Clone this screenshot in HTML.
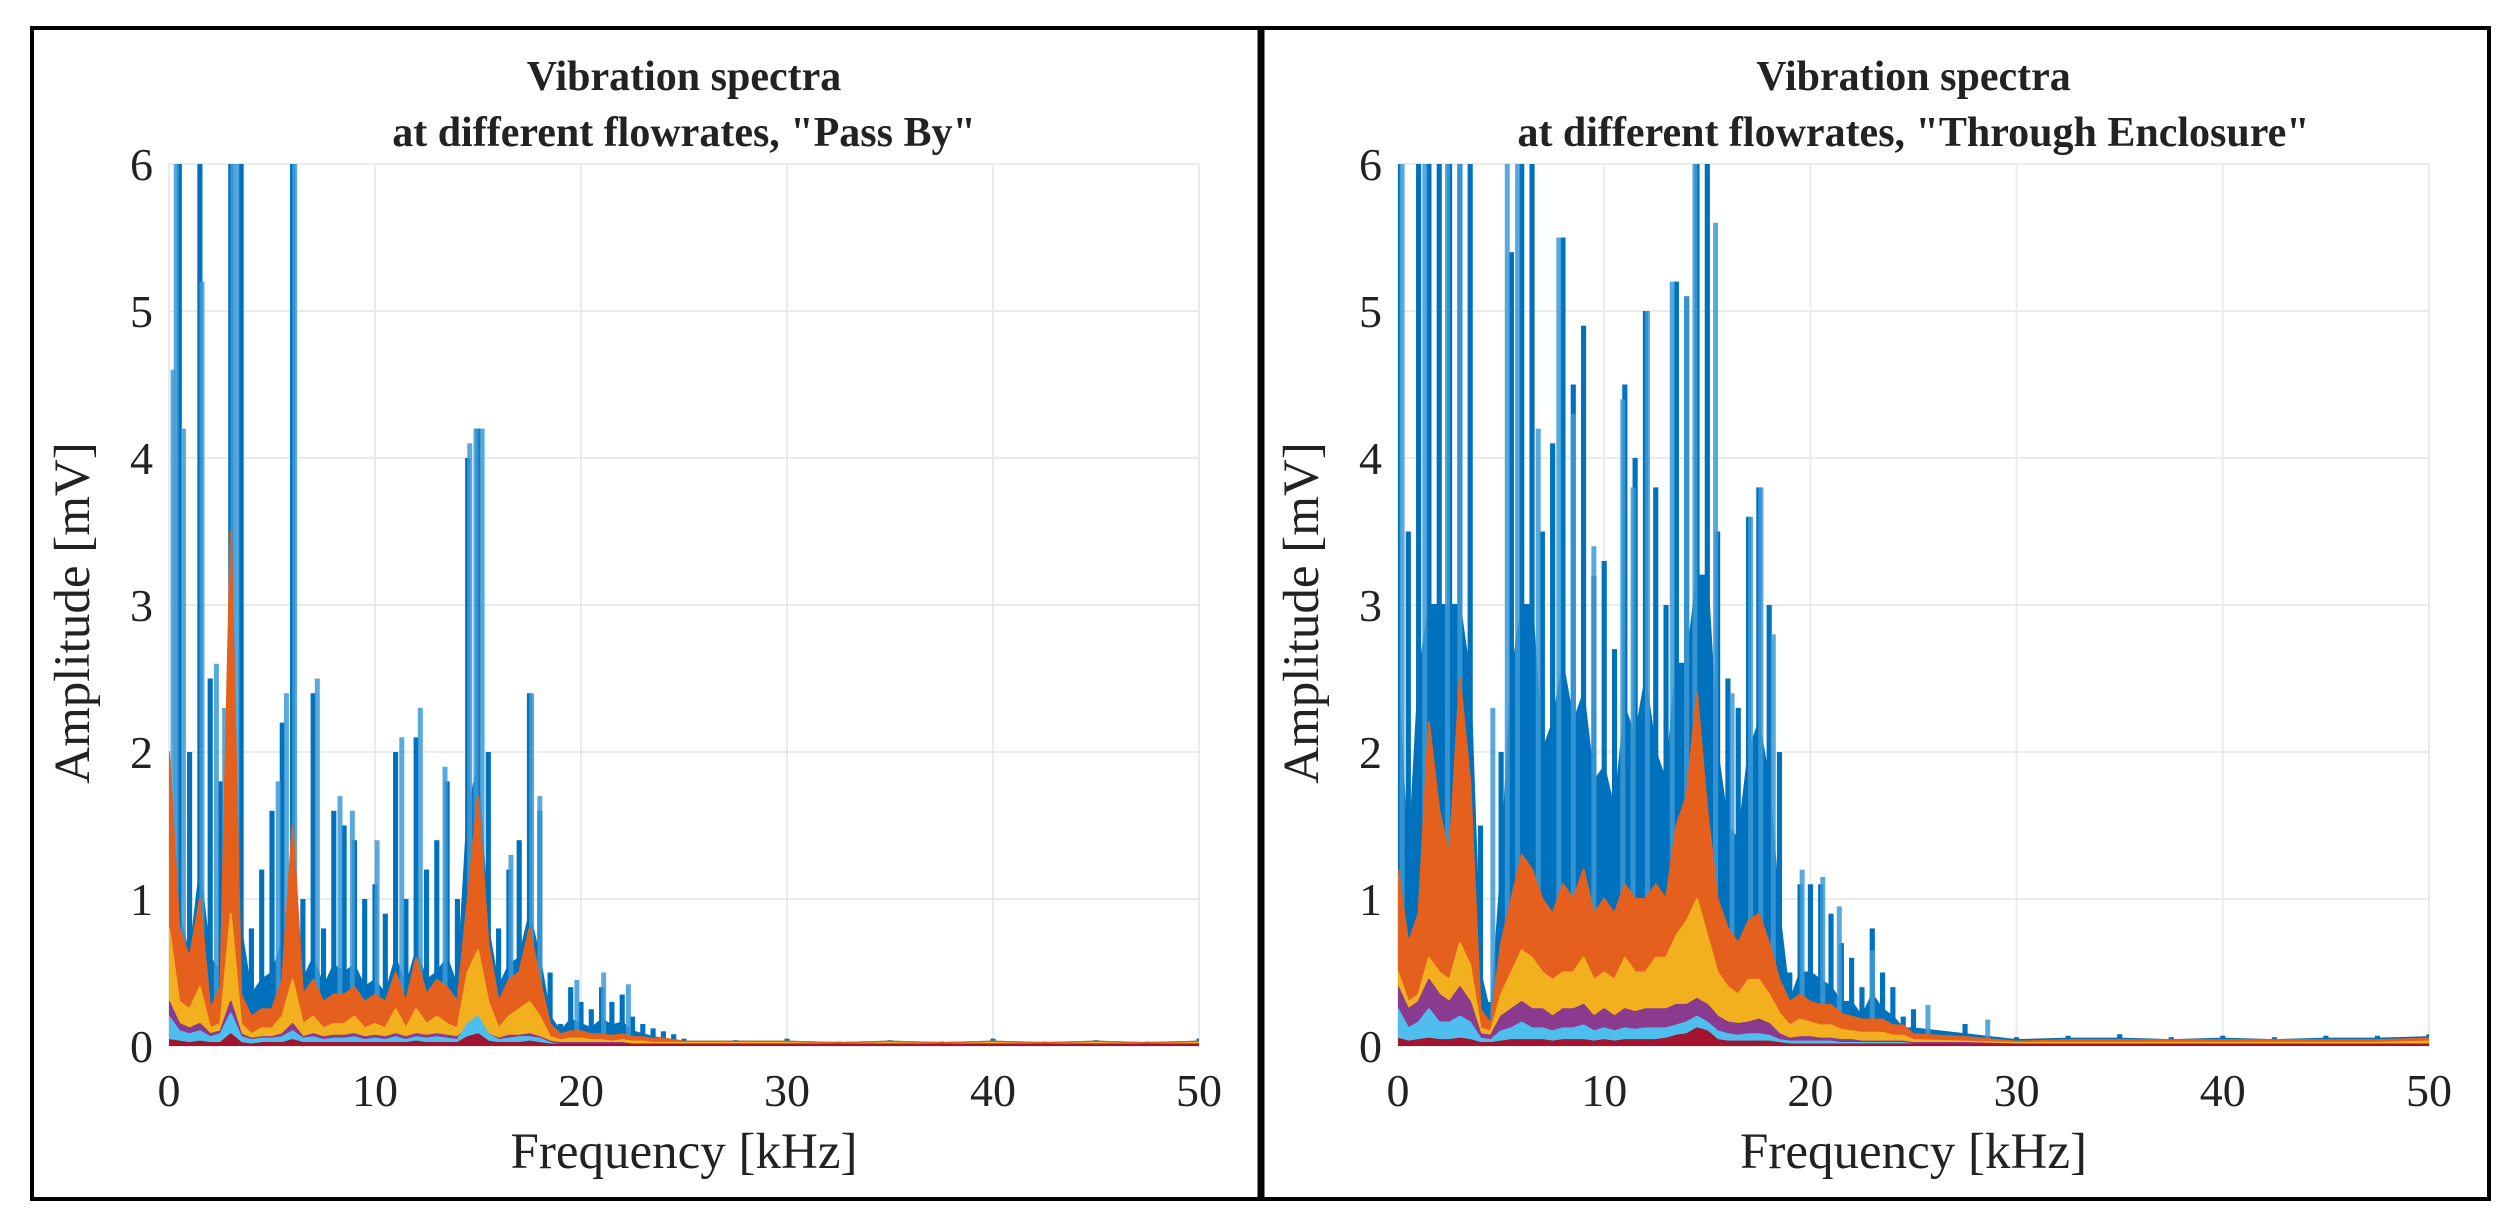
<!DOCTYPE html>
<html><head><meta charset="utf-8">
<style>
html,body{margin:0;padding:0;background:#fff;}
svg{display:block;}
text{font-family:"Liberation Serif",serif;fill:#222;}
</style></head>
<body>
<svg id="fig" width="2513" height="1222" viewBox="0 0 2513 1222" xmlns="http://www.w3.org/2000/svg">
<rect x="0" y="0" width="2513" height="1222" fill="#fff"/>
<rect x="32" y="28" width="1229" height="1171" fill="none" stroke="#000" stroke-width="4"/>
<rect x="1261" y="28" width="1228" height="1171" fill="none" stroke="#000" stroke-width="4"/>
<line x1="1261" y1="28" x2="1261" y2="1199" stroke="#000" stroke-width="7"/>
</svg>
<script>
// shared frequency bins (kHz)
const freqKHz = [0,0.5,1,1.5,2,2.5,3,3.5,4,4.5,5,5.5,6,6.5,7,7.5,8,8.5,9,9.5,10,10.5,11,11.5,12,12.5,13,13.5,14,14.5,15,15.5,16,16.5,17,17.5,18,18.5,19,19.5,20,20.5,21,21.5,22,22.5,23,23.5,24,24.5,25,27.5,30,32.5,35,37.5,40,42.5,45,47.5,50];
const xTicks = [0,10,20,30,40,50];
const yTicks = [0,1,2,3,4,5,6];

// Left: "Pass By"
const leftBlue   = [1.4,6,2.0,6,2.5,1.8,6,6,0.8,1.2,1.6,2.2,6,1.0,2.4,0.8,1.6,1.5,1.4,1.0,1.1,0.9,2.0,1.0,2.1,1.2,1.4,1.8,1.0,4.0,4.2,2.0,0.8,1.2,1.4,2.4,1.6,0.5,0.15,0.4,0.3,0.25,0.4,0.3,0.35,0.2,0.15,0.12,0.1,0.08,0.05,0.04,0.05,0.03,0.04,0.03,0.05,0.03,0.04,0.03,0.05];
const leftBlueBase = [0.9,0.9,0.6,1.2,0.6,0.5,1.5,0.8,0.35,0.45,0.5,0.7,1.2,0.45,0.6,0.4,0.55,0.5,0.55,0.4,0.45,0.35,0.6,0.4,0.65,0.45,0.5,0.6,0.4,1.6,1.9,0.8,0.4,0.55,0.6,0.9,0.6,0.2,0.1,0.18,0.15,0.12,0.18,0.14,0.16,0.1,0.08,0.06,0.05,0.04,0.03,0.03,0.03,0.02,0.03,0.02,0.03,0.02,0.03,0.02,0.03];
const leftOrange = [2.0,0.8,0.6,1.0,0.25,0.4,3.5,0.35,0.2,0.25,0.25,0.45,1.5,0.35,0.45,0.3,0.35,0.35,0.4,0.3,0.35,0.3,0.5,0.3,0.6,0.35,0.45,0.4,0.3,1.0,1.7,0.7,0.3,0.45,0.5,0.8,0.45,0.15,0.08,0.1,0.1,0.08,0.08,0.07,0.08,0.06,0.06,0.05,0.05,0.04,0.03,0.03,0.03,0.02,0.03,0.02,0.03,0.02,0.03,0.02,0.03];
const leftYellow = [0.8,0.3,0.25,0.4,0.12,0.15,0.9,0.15,0.08,0.12,0.12,0.2,0.45,0.15,0.2,0.12,0.15,0.15,0.2,0.12,0.15,0.12,0.25,0.12,0.25,0.15,0.2,0.15,0.12,0.5,0.65,0.3,0.12,0.2,0.25,0.3,0.2,0.06,0.04,0.05,0.05,0.04,0.04,0.03,0.04,0.03,0.03,0.02,0.02,0.02,0.02,0.02,0.02,0.01,0.02,0.01,0.02,0.01,0.02,0.01,0.02];
const leftPurple = [0.3,0.15,0.12,0.15,0.08,0.1,0.3,0.08,0.05,0.06,0.06,0.08,0.15,0.06,0.08,0.06,0.07,0.07,0.08,0.06,0.07,0.06,0.08,0.06,0.08,0.07,0.08,0.07,0.06,0.12,0.16,0.08,0.05,0.07,0.07,0.08,0.06,0.03,0.02,0.02,0.02,0.02,0.02,0.02,0.02,0.01,0.01,0.01,0.01,0.01,0.01,0.01,0.01,0.01,0.01,0.01,0.01,0.01,0.01,0.01,0.01];
const leftCyan   = [0.2,0.1,0.08,0.1,0.06,0.08,0.22,0.06,0.04,0.05,0.05,0.06,0.1,0.05,0.06,0.04,0.05,0.05,0.06,0.04,0.05,0.04,0.06,0.04,0.06,0.05,0.06,0.05,0.04,0.15,0.2,0.08,0.04,0.05,0.06,0.06,0.05,0.02,0.01,0.01,0.01,0.01,0.01,0.01,0.01,0.01,0.01,0.01,0.01,0.01,0.01,0.01,0.01,0.01,0.01,0.01,0.01,0.01,0.01,0.01,0.01];
const leftRed    = [0.04,0.03,0.02,0.03,0.02,0.02,0.08,0.02,0.01,0.02,0.02,0.02,0.04,0.02,0.02,0.02,0.02,0.02,0.02,0.02,0.02,0.02,0.02,0.02,0.03,0.02,0.02,0.02,0.02,0.06,0.08,0.03,0.02,0.02,0.02,0.03,0.02,0.01,0.01,0.01,0.01,0.01,0.01,0.01,0.01,0.01,0.01,0.01,0.01,0.01,0.01,0.01,0.01,0.01,0.01,0.01,0.01,0.01,0.01,0.01,0.01];
const leftSpikeFreq = [0.2,0.35,0.7,1.6,2.3,2.7,3.1,3.3,5.3,5.7,6.1,7.2,8.3,8.9,10.1,11.3,12.2,13.4,14.6,14.9,15.2,16.6,17.6,18.0,19.8,21.1,22.3];
const leftSpikeAmp  = [4.6,6,4.2,5.2,2.6,2.3,6,6,1.8,2.4,6,2.5,1.7,1.6,1.4,2.1,2.3,1.9,4.1,4.2,4.2,1.3,2.4,1.7,0.45,0.5,0.42];

// Right: "Through Enclosure"
const rightBlue   = [6,3.5,6,6,6,6,6,6,1.5,0.3,2.0,5.4,6,6,3.5,4.1,5.5,4.5,4.9,3.2,3.3,2.7,4.5,4.0,5.0,3.8,3.0,5.2,5.1,6,6,3.5,2.5,2.3,3.6,3.8,3.0,2.0,0.5,1.1,1.1,1.1,0.9,0.7,0.6,0.4,0.8,0.5,0.4,0.2,0.25,0.15,0.06,0.07,0.08,0.06,0.07,0.06,0.07,0.07,0.08];
const rightBlueBase = [2.5,1.2,2.5,3.0,3.0,3.0,3.0,2.5,0.5,0.2,1.2,2.5,3.0,3.0,2.0,2.2,2.6,2.2,2.4,1.8,1.9,1.6,2.3,2.1,2.5,2.0,1.8,2.6,2.6,3.2,3.2,2.0,1.5,1.4,2.0,2.2,1.8,0.9,0.3,0.5,0.5,0.45,0.4,0.3,0.3,0.2,0.35,0.25,0.2,0.12,0.12,0.08,0.04,0.05,0.05,0.04,0.05,0.04,0.05,0.05,0.06];
const rightOrange = [1.2,0.7,0.9,2.2,1.6,1.3,2.5,1.8,0.25,0.15,0.7,1.0,1.3,1.2,1.0,0.9,1.1,1.0,1.2,0.9,1.0,0.9,1.1,1.0,1.0,1.1,1.0,1.5,1.7,2.4,1.6,1.0,0.8,0.7,0.85,0.9,0.7,0.45,0.3,0.35,0.3,0.28,0.28,0.22,0.2,0.18,0.18,0.18,0.14,0.14,0.08,0.06,0.03,0.04,0.04,0.04,0.04,0.04,0.04,0.04,0.05];
const rightYellow = [0.5,0.3,0.35,0.6,0.5,0.45,0.7,0.55,0.12,0.1,0.35,0.5,0.65,0.6,0.5,0.45,0.5,0.5,0.6,0.45,0.5,0.45,0.6,0.5,0.5,0.6,0.6,0.75,0.85,1.0,0.75,0.5,0.4,0.35,0.45,0.45,0.35,0.22,0.14,0.18,0.16,0.14,0.14,0.11,0.1,0.09,0.09,0.09,0.07,0.07,0.04,0.03,0.02,0.02,0.02,0.02,0.02,0.02,0.02,0.02,0.03];
const rightPurple = [0.4,0.25,0.3,0.45,0.35,0.3,0.4,0.3,0.08,0.07,0.2,0.25,0.3,0.25,0.25,0.2,0.25,0.25,0.28,0.2,0.25,0.2,0.25,0.23,0.25,0.25,0.25,0.28,0.28,0.32,0.28,0.2,0.16,0.15,0.16,0.18,0.15,0.08,0.05,0.06,0.06,0.05,0.05,0.04,0.04,0.03,0.03,0.03,0.03,0.03,0.02,0.02,0.01,0.01,0.01,0.01,0.01,0.01,0.01,0.01,0.01];
const rightCyan   = [0.25,0.12,0.16,0.25,0.16,0.16,0.2,0.16,0.05,0.04,0.1,0.12,0.16,0.12,0.12,0.1,0.12,0.12,0.14,0.1,0.12,0.1,0.12,0.11,0.12,0.12,0.12,0.14,0.16,0.2,0.16,0.1,0.08,0.07,0.08,0.08,0.07,0.04,0.03,0.03,0.03,0.03,0.03,0.02,0.02,0.02,0.02,0.02,0.02,0.02,0.01,0.01,0.01,0.01,0.01,0.01,0.01,0.01,0.01,0.01,0.01];
const rightRed    = [0.05,0.03,0.04,0.05,0.04,0.04,0.05,0.04,0.02,0.02,0.03,0.04,0.04,0.04,0.04,0.03,0.04,0.04,0.04,0.03,0.04,0.03,0.04,0.04,0.04,0.04,0.05,0.07,0.08,0.12,0.1,0.04,0.03,0.03,0.03,0.03,0.03,0.02,0.01,0.01,0.01,0.01,0.01,0.01,0.01,0.01,0.01,0.01,0.01,0.01,0.01,0.01,0.01,0.01,0.01,0.01,0.01,0.01,0.01,0.01,0.01];
const rightSpikeFreq = [0.2,1.3,2.4,3.0,4.6,5.3,5.8,6.8,7.8,8.5,9.5,10.9,11.4,12.1,13.3,14.0,14.4,15.4,16.2,17.1,17.6,18.2,19.6,20.6,21.4,23.0,25.7,28.6];
const rightSpikeAmp  = [6,6,6,6,2.3,6,6,4.2,5.5,4.3,3.4,4.4,3.8,5.0,5.2,5.1,6,5.6,2.4,3.6,3.8,2.8,1.2,1.15,0.95,0.65,0.28,0.18];

const svg = document.getElementById('fig');
const NS = 'http://www.w3.org/2000/svg';
function mk(tag, attrs, parent){ const e=document.createElementNS(NS,tag); for(const k in attrs) e.setAttribute(k,attrs[k]); (parent||svg).appendChild(e); return e; }

function panel(cfg){
  const {x0,x1,y0,y1,id,title2,blue,blueBase,orange,yellow,purple,cyan,red,spF,spA} = cfg;
  const xs = f => x0 + (f/50)*(x1-x0);
  const ys = v => y1 - (Math.min(v,6.3)/6)*(y1-y0);
  const g = mk('g',{});
  
  
  const cp = mk('clipPath',{id:id+'-clip'},g);
  mk('rect',{x:x0,y:y0,width:x1-x0,height:y1-y0},cp);
  xTicks.forEach(t=>{
    const l = mk('line',{x1:xs(t),x2:xs(t),y1:y0,y2:y1,stroke:'#ebebeb','stroke-width':2},g);
    
    
  });
  yTicks.forEach(t=>{
    const l = mk('line',{x1:x0,x2:x1,y1:ys(t),y2:ys(t),stroke:'#ebebeb','stroke-width':2},g);
    
    
  });
  const plot = mk('g',{'clip-path':'url(#'+id+'-clip)'},g);
  const area = (vals,col,name)=>{
    let d = 'M'+xs(freqKHz[0])+','+y1;
    freqKHz.forEach((f,i)=>{ d += ' L'+xs(f)+','+ys(vals[i]); });
    d += ' L'+xs(freqKHz[freqKHz.length-1])+','+y1+' Z';
    const p = mk('path',{d:d,fill:col,stroke:col,'stroke-width':2,'stroke-linejoin':'round'},plot);
    
    
  };
  const bw = (xs(0.5)-xs(0))*0.5;
  freqKHz.forEach((f,i)=>{
    const r = mk('rect',{x:xs(f)-bw/2,y:ys(blue[i]),width:bw,height:y1-ys(blue[i]),fill:'#0072BD'},plot);
    
    
  });
  area(blueBase,'#0072BD','blue-series-base');
  spF.forEach((f,i)=>{
    const l = mk('line',{x1:xs(f),x2:xs(f),y1:y1,y2:ys(spA[i]),stroke:'#3d9ad6','stroke-width':5,'stroke-opacity':0.85},plot);
    
    
  });
  area(orange,'#E4601C','orange-series');
  area(yellow,'#F2B01E','yellow-series');
  area(purple,'#8A3A8F','purple-series');
  area(cyan,'#4DBEEE','cyan-series');
  area(red,'#A2142F','red-series');
  xTicks.forEach(t=>{
    const tx = mk('text',{x:xs(t),y:y1+60,'text-anchor':'middle','font-size':46},g);
    tx.textContent = t;
    
    
  });
  yTicks.forEach(t=>{
    const tx = mk('text',{x:x0-16,y:ys(t)+16,'text-anchor':'end','font-size':46},g);
    tx.textContent = t;
    
    
  });
  const xl = mk('text',{x:(x0+x1)/2,y:y1+122,'text-anchor':'middle','font-size':51},g);
  xl.textContent = 'Frequency [kHz]';
  
  
  const yl = mk('text',{x:0,y:0,'text-anchor':'middle','font-size':51,transform:'translate('+(x0-80)+','+((y0+y1)/2+8)+') rotate(-90)'},g);
  yl.textContent = 'Amplitude [mV]';
  
  
  const t1 = mk('text',{x:(x0+x1)/2,y:90,'text-anchor':'middle','font-size':42,'font-weight':'bold'},g);
  t1.textContent = 'Vibration spectra';
  
  
  const t2 = mk('text',{x:(x0+x1)/2,y:146,'text-anchor':'middle','font-size':42,'font-weight':'bold'},g);
  t2.textContent = title2;
  
  
}

panel({x0:169,x1:1199,y0:164,y1:1046,id:'pass-by',title2:'at different flowrates, "Pass By"',
  blue:leftBlue,blueBase:leftBlueBase,orange:leftOrange,yellow:leftYellow,purple:leftPurple,cyan:leftCyan,red:leftRed,spF:leftSpikeFreq,spA:leftSpikeAmp});
panel({x0:1398,x1:2429,y0:164,y1:1046,id:'through-enclosure',title2:'at different flowrates, "Through Enclosure"',
  blue:rightBlue,blueBase:rightBlueBase,orange:rightOrange,yellow:rightYellow,purple:rightPurple,cyan:rightCyan,red:rightRed,spF:rightSpikeFreq,spA:rightSpikeAmp});
</script>
</body></html>
